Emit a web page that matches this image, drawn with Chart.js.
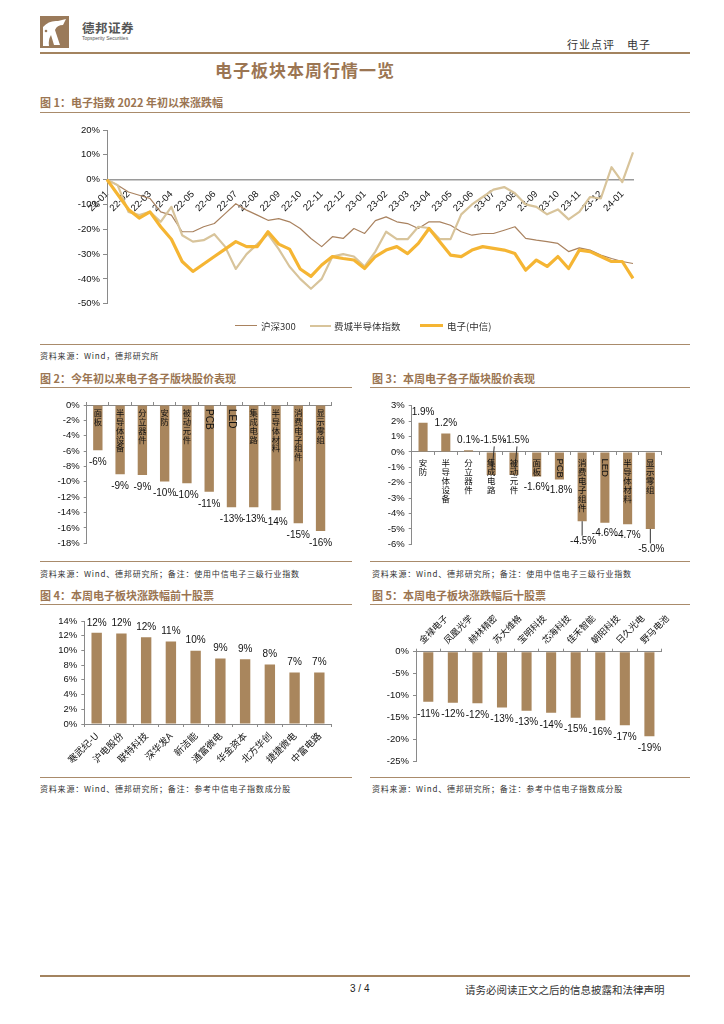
<!DOCTYPE html>
<html><head><meta charset="utf-8">
<script src="https://cdn.jsdelivr.net/npm/chart.js@4.4.1/dist/chart.umd.min.js"></script>
<style>
body{margin:0;width:724px;height:1024px;background:#fff;position:relative;overflow:hidden;font-family:"Noto Sans CJK SC",sans-serif;color:#222}
.rule{position:absolute;height:0;border-top:1.5px solid #a98b6b}
.fig{position:absolute;font-size:11px;font-weight:bold;color:#9b7552;white-space:nowrap;line-height:14px}
.src{position:absolute;font-size:8px;letter-spacing:0.8px;color:#333;white-space:nowrap;line-height:10px}
.lg{position:absolute;font-size:9.5px;color:#333;white-space:nowrap;line-height:12px}
.lgl{position:absolute;height:0}
canvas{position:absolute}
</style></head><body>

<!-- header -->
<svg style="position:absolute;left:40px;top:16px" width="29" height="32" viewBox="0 0 29 32">
  <rect x="0" y="0" width="29" height="32" fill="#9a7a5a"/>
  <path d="M3 11 Q9 4 18 5 L26 3 L23 9 Q17 9 15 14 L20 29 L14 29 L11 19 Q8 24 9 30 L3 30 Z" fill="#fff"/>
  <circle cx="6" cy="15" r="1.3" fill="#9a7a5a"/>
</svg>
<div style="position:absolute;left:82px;top:18px;font-size:12.5px;font-weight:bold;color:#555;letter-spacing:0.5px">德邦证券</div>
<div style="position:absolute;left:82px;top:35px;font-size:5px;color:#555;font-family:'Liberation Sans',sans-serif">Topsperity Securities</div>
<div style="position:absolute;left:567px;top:36px;font-size:11px;color:#333;letter-spacing:1px">行业点评　电子</div>
<div class="rule" style="left:40px;top:52px;width:650px;border-top:2.5px solid #a3835f"></div>
<div style="position:absolute;left:215px;top:57px;font-size:17px;font-weight:bold;color:#9b7552;letter-spacing:1px">电子板块本周行情一览</div>

<!-- figure 1 -->
<div class="fig" style="left:40px;top:95px">图 1：电子指数 2022 年初以来涨跌幅</div>
<div class="rule" style="left:40px;top:112px;width:650px"></div>
<canvas id="c1" width="650" height="230" style="left:40px;top:115px"></canvas>
<div class="lgl" style="left:235px;top:325px;width:22px;border-top:1.5px solid #a9825f"></div>
<div class="lg" style="left:261px;top:320px">沪深300</div>
<div class="lgl" style="left:310px;top:325px;width:21px;border-top:2.5px solid #d8c49b"></div>
<div class="lg" style="left:334px;top:320px">费城半导体指数</div>
<div class="lgl" style="left:420px;top:324px;width:23px;border-top:3.5px solid #f5b533"></div>
<div class="lg" style="left:447px;top:320px">电子(中信)</div>
<div class="rule" style="left:40px;top:344px;width:650px"></div>
<div class="src" style="left:40px;top:351px">资料来源：Wind，德邦研究所</div>

<!-- figure 2 / 3 -->
<div class="fig" style="left:40px;top:371px">图 2：今年初以来电子各子版块股价表现</div>
<div class="rule" style="left:40px;top:387px;width:312px"></div>
<canvas id="c2" width="312" height="170" style="left:40px;top:390px"></canvas>
<div class="rule" style="left:40px;top:561px;width:312px"></div>
<div class="src" style="left:40px;top:569px">资料来源：Wind、德邦研究所；备注：使用中信电子三级行业指数</div>

<div class="fig" style="left:372px;top:371px">图 3：本周电子各子版块股价表现</div>
<div class="rule" style="left:370px;top:387px;width:320px"></div>
<canvas id="c3" width="325" height="170" style="left:360px;top:390px"></canvas>
<div class="rule" style="left:370px;top:561px;width:320px"></div>
<div class="src" style="left:372px;top:569px">资料来源：Wind、德邦研究所；备注：使用中信电子三级行业指数</div>

<!-- figure 4 / 5 -->
<div class="fig" style="left:40px;top:588px">图 4：本周电子板块涨跌幅前十股票</div>
<div class="rule" style="left:40px;top:604px;width:312px"></div>
<canvas id="c4" width="312" height="170" style="left:40px;top:607px"></canvas>
<div class="rule" style="left:40px;top:777px;width:312px"></div>
<div class="src" style="left:40px;top:784px">资料来源：Wind、德邦研究所；备注：参考中信电子指数成分股</div>

<div class="fig" style="left:372px;top:588px">图 5：本周电子板块涨跌幅后十股票</div>
<div class="rule" style="left:370px;top:604px;width:320px"></div>
<canvas id="c5" width="325" height="170" style="left:360px;top:607px"></canvas>
<div class="rule" style="left:370px;top:777px;width:320px"></div>
<div class="src" style="left:372px;top:784px">资料来源：Wind、德邦研究所；备注：参考中信电子指数成分股</div>

<!-- footer -->
<div class="rule" style="left:40px;top:975px;width:650px;border-top:2px solid #a3835f"></div>
<div style="position:absolute;left:350px;top:983px;font-size:10px;font-family:'Liberation Sans',sans-serif;color:#222">3 / 4</div>
<div style="position:absolute;left:465px;top:982px;font-size:10.5px;color:#333">请务必阅读正文之后的信息披露和法律声明</div>

<script>
// ---- figure 1: half-month samples since 2022-01 ----
var sampleDates = ['22-01-01','22-01-15','22-02-01','22-02-15','22-03-01','22-03-15','22-04-01','22-04-15','22-05-01','22-05-15',
  '22-06-01','22-06-15','22-07-01','22-07-15','22-08-01','22-08-15','22-09-01','22-09-15','22-10-01','22-10-15',
  '22-11-01','22-11-15','22-12-01','22-12-15','23-01-01','23-01-15','23-02-01','23-02-15','23-03-01','23-03-15',
  '23-04-01','23-04-15','23-05-01','23-05-15','23-06-01','23-06-15','23-07-01','23-07-15','23-08-01','23-08-15',
  '23-09-01','23-09-15','23-10-01','23-10-15','23-11-01','23-11-15','23-12-01','23-12-15','24-01-01','24-01-15'];
var hs300 = [0, -2.3, -5, -6.3, -7.6, -13, -14.3, -21, -21, -19,
  -17.7, -13.7, -9.7, -12.3, -14.3, -16.4, -15.7, -17, -19.7, -23.7,
  -27, -23, -23.7, -19.7, -21.7, -16.5, -15, -17, -17.7, -19.7,
  -17, -17, -18.4, -21, -22.4, -21.7, -21.7, -20.4, -19, -23.7,
  -24.4, -25, -25.7, -29, -27.5, -28.4, -30.4, -31.8, -33, -33.8];
var phlxSemi = [0, -2.3, -13, -14.3, -13, -17, -11, -22.4, -25, -24.4,
  -22, -27, -36, -30, -26, -22, -28, -35, -40, -44,
  -40, -31, -30, -31, -35, -29, -21, -24, -24, -19,
  -19.5, -24, -24, -14, -10, -7, -4, -3, -5.5, -10,
  -11, -14, -12, -16, -13, -7, -7.6, 5, -1, 11];
var citicElec = [0, -6, -12, -15.5, -13, -19, -24, -33, -37, -34,
  -31, -28, -25, -27, -27, -21, -26, -28, -36, -39,
  -34.4, -31, -31.8, -32.4, -35.8, -31, -28.4, -27, -29.8, -25.7,
  -19.7, -25, -30.4, -31, -28.4, -27, -27.7, -28.4, -29.8, -36.5,
  -32.4, -35, -31, -35.8, -28.4, -29, -31, -33, -33, -39.8];

// ---- figure 2: YTD sub-sector performance ----
var ytdSectors = ['面板','半导体设备','分立器件','安防','被动元件','PCB','LED','集成电路','半导体材料','消费电子组件','显示零组'];
var ytdValues = [-5.9, -9.0, -9.1, -9.97, -10.2, -11.3, -13.3, -13.3, -13.7, -15.4, -16.4];

// ---- figure 3: this week sub-sector performance ----
var weekSectors = ['安防','半导体设备','分立器件','集成电路','被动元件','面板','PCB','消费电子组件','LED','半导体材料','显示零组'];
var weekValues = [1.9, 1.2, 0.1, -1.5, -1.5, -1.6, -1.8, -4.5, -4.6, -4.7, -5.0];

// ---- figure 4 / 5: top and bottom ten stocks ----
var topStocks = ['寒武纪-U','沪电股份','联特科技','深华发A','新洁能','通富微电','华金资本','北方华创','捷捷微电','中富电路'];
var topValues = [12.4, 12.3, 11.8, 11.2, 9.97, 8.9, 8.8, 8.1, 7.0, 7.0];
var bottomStocks = ['金禄电子','凤凰光学','赫林精密','苏大维格','宝明科技','芯海科技','佳禾智能','朝阳科技','日久光电','野马电池'];
var bottomValues = [-11.4, -11.6, -11.7, -12.7, -13.4, -13.9, -15.0, -15.6, -16.7, -19.2];

var AXIS = '#8a8a8a';
var BAR = '#a9865d';
var LATIN = "'Liberation Sans', Arial, sans-serif";
var CJK = "'Noto Sans CJK SC', sans-serif";

Chart.defaults.font.family = LATIN;
Chart.defaults.color = '#111';
Chart.defaults.animation = false;
Chart.defaults.responsive = false;
Chart.defaults.plugins.legend.display = false;
Chart.defaults.plugins.tooltip.enabled = false;

function pct(v) { return v + '%'; }

function yAxis(min, max, step, width) {
  return {
    min: min, max: max,
    ticks: { stepSize: step, callback: pct, font: { size: 9.5 }, padding: 4 },
    grid: { drawOnChartArea: false, tickLength: 3, color: AXIS },
    border: { color: AXIS },
    afterFit: function(s) { s.width = width; }
  };
}

// value labels on bars
var barValueLabels = {
  id: 'barValueLabels',
  afterDatasetsDraw: function(chart, args, o) {
    var ctx = chart.ctx;
    var vals = chart.data.datasets[0].data;
    var y0 = chart.scales.y.getPixelForValue(0);
    var special = o.special || {};
    ctx.save();
    ctx.font = '10px ' + LATIN;
    ctx.fillStyle = '#111';
    ctx.strokeStyle = '#333';
    ctx.lineWidth = 1;
    ctx.textAlign = 'center';
    ctx.textBaseline = 'middle';
    chart.getDatasetMeta(0).data.forEach(function(bar, i) {
      var v = vals[i];
      var x = bar.x;
      var y = v >= 0 ? bar.y - o.gap : bar.y + o.gap;
      if (special[i] === 'up') {
        x = bar.x + 2;
        y = y0 - o.gap - 1;
        ctx.beginPath(); ctx.moveTo(x + 1, y + 6); ctx.lineTo(bar.x + 1, bar.y - 6); ctx.stroke();
      } else if (special[i] === 'drop') {
        y = bar.y + o.gap + 10;
        ctx.beginPath(); ctx.moveTo(bar.x, bar.y); ctx.lineTo(bar.x, y - 6); ctx.stroke();
        x = bar.x + 1;
      }
      ctx.fillText(v.toFixed(o.decimals) + '%', x, y);
    });
    ctx.restore();
  }
};

// vertical (stacked) category names drawn under the zero line
var stackedCats = {
  id: 'stackedCats',
  afterDatasetsDraw: function(chart, args, o) {
    var ctx = chart.ctx, xs = chart.scales.x;
    var y0 = chart.scales.y.getPixelForValue(0) + o.top;
    ctx.save();
    ctx.fillStyle = '#111';
    chart.data.labels.forEach(function(lab, i) {
      var x = xs.getPixelForValue(i);
      if (/^[A-Z]+$/.test(lab)) {
        ctx.save();
        ctx.translate(x, y0);
        ctx.rotate(Math.PI / 2);
        ctx.font = o.latinSize + 'px ' + LATIN;
        ctx.textAlign = 'left';
        ctx.textBaseline = 'middle';
        ctx.fillText(lab, 0, 0);
        ctx.restore();
      } else {
        ctx.font = o.size + 'px ' + CJK;
        ctx.textAlign = 'center';
        ctx.textBaseline = 'top';
        Array.from(lab).forEach(function(ch, k) { ctx.fillText(ch, x, y0 + k * o.step); });
      }
    });
    ctx.restore();
  }
};

// figure 1
new Chart(document.getElementById('c1'), {
  type: 'line',
  data: {
    labels: sampleDates,
    datasets: [
      { label: '沪深300', data: hs300, borderColor: '#a9825f', borderWidth: 1.2, order: 2 },
      { label: '费城半导体指数', data: phlxSemi, borderColor: '#d8c49b', borderWidth: 2.2, order: 1 },
      { label: '电子(中信)', data: citicElec, borderColor: '#f5b533', borderWidth: 3.2, order: 0 }
    ]
  },
  options: {
    elements: { point: { radius: 0 }, line: { tension: 0, borderJoinStyle: 'round' } },
    layout: { padding: { left: 0, right: 57, top: 15, bottom: 41.3 } },
    scales: {
      x: {
        position: { y: 0 },
        grid: { display: false },
        border: { color: '#9a9a9a', width: 1.5 },
        ticks: {
          autoSkip: false, minRotation: 45, maxRotation: 45, padding: 1,
          font: { size: 9.5 },
          callback: function(v) {
            var l = this.getLabelForValue(v);
            return l.slice(6) === '01' ? l.slice(0, 5) : '';
          }
        }
      },
      y: {
        min: -50, max: 20,
        ticks: { stepSize: 10, callback: pct, font: { size: 9.5 }, padding: 3 },
        grid: { drawOnChartArea: false, tickLength: 4, color: AXIS },
        border: { color: AXIS },
        afterFit: function(s) { s.width = 67; }
      }
    }
  }
});

// figure 2
new Chart(document.getElementById('c2'), {
  type: 'bar',
  data: { labels: ytdSectors, datasets: [{ data: ytdValues, backgroundColor: BAR, barPercentage: 0.42, categoryPercentage: 1 }] },
  options: {
    layout: { padding: { left: 0, right: 20.3, top: 0, bottom: 16.7 } },
    scales: {
      x: {
        position: 'top',
        ticks: { display: false },
        grid: { drawOnChartArea: false, tickLength: 3, color: AXIS },
        border: { color: AXIS },
        afterFit: function(s) { s.height = 15; }
      },
      y: yAxis(-18, 0, 2, 46.7)
    },
    plugins: {
      barValueLabels: { gap: 12, decimals: 0 },
      stackedCats: { top: 4, step: 8.8, size: 8.3, latinSize: 10 }
    }
  },
  plugins: [barValueLabels, stackedCats]
});

// figure 3
new Chart(document.getElementById('c3'), {
  type: 'bar',
  data: { labels: weekSectors, datasets: [{ data: weekValues, backgroundColor: BAR, barPercentage: 0.4, categoryPercentage: 1 }] },
  options: {
    layout: { padding: { left: 0, right: 23.3, top: 15.7, bottom: 15.7 } },
    scales: {
      x: {
        position: { y: 0 },
        ticks: { display: false },
        grid: { drawOnChartArea: false, tickLength: 3, color: AXIS },
        border: { color: AXIS }
      },
      y: yAxis(-6, 3, 1, 51.7)
    },
    plugins: {
      barValueLabels: { gap: 10.5, decimals: 1, special: { 3: 'up', 4: 'up', 7: 'drop', 10: 'drop' } },
      stackedCats: { top: 6.5, step: 9, size: 8.5, latinSize: 9.5 }
    }
  },
  plugins: [barValueLabels, stackedCats]
});

// figure 4
new Chart(document.getElementById('c4'), {
  type: 'bar',
  data: { labels: topStocks, datasets: [{ data: topValues, backgroundColor: BAR, barPercentage: 0.42, categoryPercentage: 1 }] },
  options: {
    layout: { padding: { left: 0, right: 20.3, top: 14, bottom: 8 } },
    scales: {
      x: {
        ticks: { autoSkip: false, minRotation: 45, maxRotation: 45, padding: 3, font: { size: 9.5, family: CJK } },
        grid: { drawOnChartArea: false, tickLength: 3, color: AXIS },
        border: { color: AXIS },
        afterFit: function(s) { s.height = 45; }
      },
      y: yAxis(0, 14, 2, 44.3)
    },
    plugins: { barValueLabels: { gap: 10, decimals: 0 } }
  },
  plugins: [barValueLabels]
});

// figure 5
new Chart(document.getElementById('c5'), {
  type: 'bar',
  data: { labels: bottomStocks, datasets: [{ data: bottomValues, backgroundColor: BAR, barPercentage: 0.41, categoryPercentage: 1 }] },
  options: {
    layout: { padding: { left: 0, right: 23.3, top: 0, bottom: 15.3 } },
    scales: {
      x: {
        position: 'top',
        ticks: { autoSkip: false, minRotation: 45, maxRotation: 45, padding: 3, font: { size: 9, family: CJK } },
        grid: { drawOnChartArea: false, tickLength: 3, color: AXIS },
        border: { color: AXIS },
        afterFit: function(s) { s.height = 44.7; }
      },
      y: yAxis(-25, 0, 5, 56)
    },
    plugins: { barValueLabels: { gap: 12, decimals: 0 } }
  },
  plugins: [barValueLabels]
});
</script>
</body></html>
